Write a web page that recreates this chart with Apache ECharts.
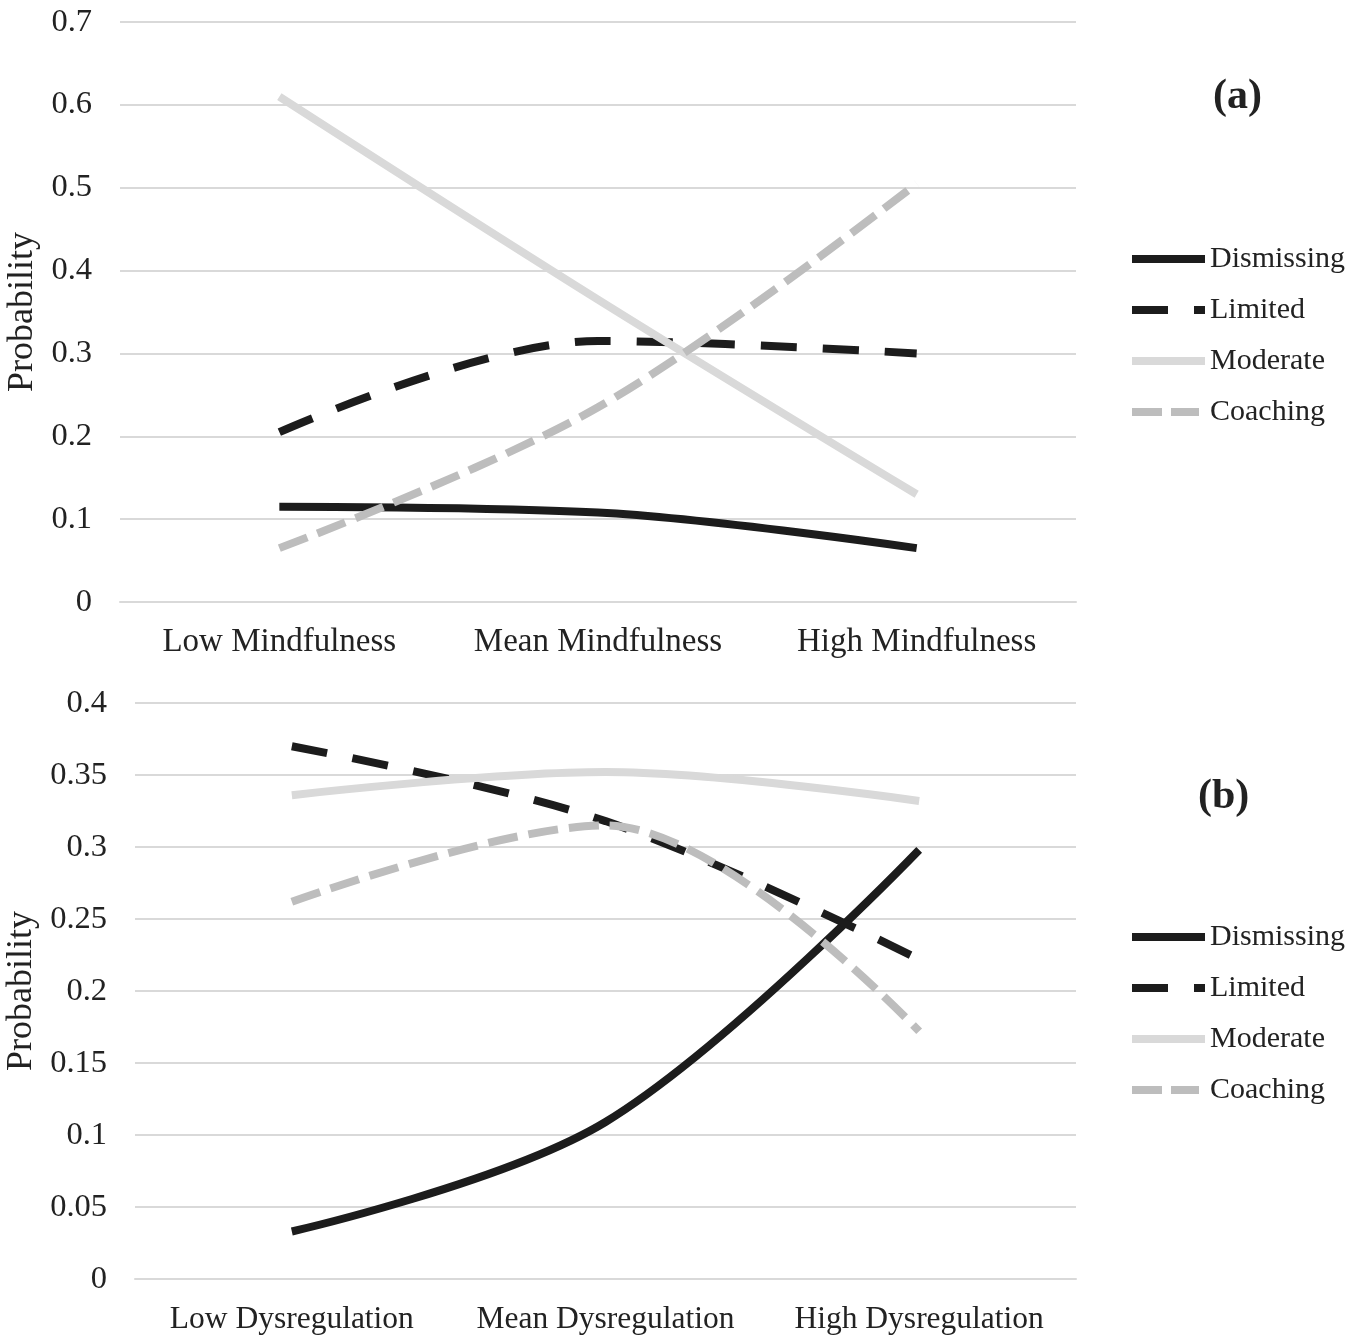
<!DOCTYPE html>
<html><head><meta charset="utf-8">
<script src="https://cdn.jsdelivr.net/npm/echarts@6/dist/echarts.min.js"></script>
<style>html,body{margin:0;padding:0;background:#fff}#c{width:1365px;height:1336px}</style>
</head><body><div id="c"></div>
<script>
const catsA = ['Low Mindfulness', 'Mean Mindfulness', 'High Mindfulness'];
const catsB = ['Low Dysregulation', 'Mean Dysregulation', 'High Dysregulation'];
const seriesNames = ['Dismissing', 'Limited', 'Moderate', 'Coaching'];
const dismissingA = [0.115, 0.108, 0.065];
const limitedA = [0.205, 0.315, 0.300];
const moderateA = [0.610, 0.365, 0.130];
const coachingA = [0.065, 0.235, 0.505];
const dismissingB = [0.033, 0.109, 0.298];
const limitedB = [0.370, 0.318, 0.222];
const moderateB = [0.336, 0.352, 0.332];
const coachingB = [0.262, 0.315, 0.172];

const FONT = '"Liberation Serif", "Times New Roman", serif';
const styles = [
  {color: '#1c1c1c', type: 'solid', icon: 'path://M0,0H73V8H0Z'},
  {color: '#1c1c1c', type: [36, 26], icon: 'path://M0,0H36V8H0ZM62,0H73V8H62Z'},
  {color: '#d9d9d9', type: 'solid', icon: 'path://M0,0H73V8H0Z'},
  {color: '#bdbdbd', type: [30, 11], icon: 'path://M0,0H30V8H0ZM39,0H67V8H39ZM72.9,4H73V4.1H72.9Z'}
];
function mk(name, data, axis) {
  const s = styles[seriesNames.indexOf(name)];
  return {
    name, type: 'line', data, xAxisIndex: axis, yAxisIndex: axis,
    smooth: 0.35, symbol: 'none', silent: true,
    lineStyle: {color: s.color, width: 8, type: s.type, cap: 'butt'},
    itemStyle: {color: s.color}
  };
}
const chart = echarts.init(document.getElementById('c'));
const gridLine = {show: true, lineStyle: {color: '#d9d9d9', width: 2}};
const legendData = seriesNames.map((n, i) => ({name: n, icon: styles[i].icon, itemStyle: {color: styles[i].color}}));
const legendBase = {
  orient: 'vertical', left: 1127, itemWidth: 73, itemHeight: 8, itemGap: 21,
  textStyle: {fontFamily: FONT, fontSize: 30, color: '#222', lineHeight: 30},
  data: legendData
};
chart.setOption({
  animation: false,
  grid: [
    {left: 120, width: 956, top: 22, height: 580, outerBoundsMode: 'none', containLabel: false},
    {left: 135, width: 941, top: 703, height: 576, outerBoundsMode: 'none', containLabel: false}
  ],
  xAxis: [
    {type: 'category', gridIndex: 0, data: catsA, axisTick: {show: false},
     axisLine: {lineStyle: {color: '#d9d9d9', width: 2}},
     axisLabel: {fontFamily: FONT, fontSize: 33, color: '#222', margin: 24, interval: 0}},
    {type: 'category', gridIndex: 1, data: catsB, axisTick: {show: false},
     axisLine: {lineStyle: {color: '#d9d9d9', width: 2}},
     axisLabel: {fontFamily: FONT, fontSize: 31.5, color: '#222', margin: 25, interval: 0}}
  ],
  yAxis: [
    {type: 'value', gridIndex: 0, min: 0, max: 0.7, interval: 0.1, splitLine: gridLine,
     axisLine: {show: false}, axisTick: {show: false},
     axisLabel: {fontFamily: FONT, fontSize: 32.5, color: '#222', margin: 28},
     name: 'Probability', nameLocation: 'middle', nameGap: 77,
     nameTextStyle: {fontFamily: FONT, fontSize: 36, color: '#222'}},
    {type: 'value', gridIndex: 1, min: 0, max: 0.4, interval: 0.05, splitLine: gridLine,
     axisLine: {show: false}, axisTick: {show: false},
     axisLabel: {fontFamily: FONT, fontSize: 32.5, color: '#222', margin: 28},
     name: 'Probability', nameLocation: 'middle', nameGap: 92,
     nameTextStyle: {fontFamily: FONT, fontSize: 36, color: '#222'}}
  ],
  legend: [
    Object.assign({}, legendBase, {top: 239}),
    Object.assign({}, legendBase, {top: 917})
  ],
  series: [
    mk('Dismissing', dismissingA, 0),
    mk('Limited', limitedA, 0),
    mk('Moderate', moderateA, 0),
    mk('Coaching', coachingA, 0),
    mk('Dismissing', dismissingB, 1),
    mk('Limited', limitedB, 1),
    mk('Moderate', moderateB, 1),
    mk('Coaching', coachingB, 1)
  ],
  graphic: [
    {type: 'text', left: 1213, top: 76, style: {text: '(a)', font: 'bold 42px ' + FONT, fill: '#222'}},
    {type: 'text', left: 1198, top: 776, style: {text: '(b)', font: 'bold 42px ' + FONT, fill: '#222'}}
  ]
});
</script></body></html>
